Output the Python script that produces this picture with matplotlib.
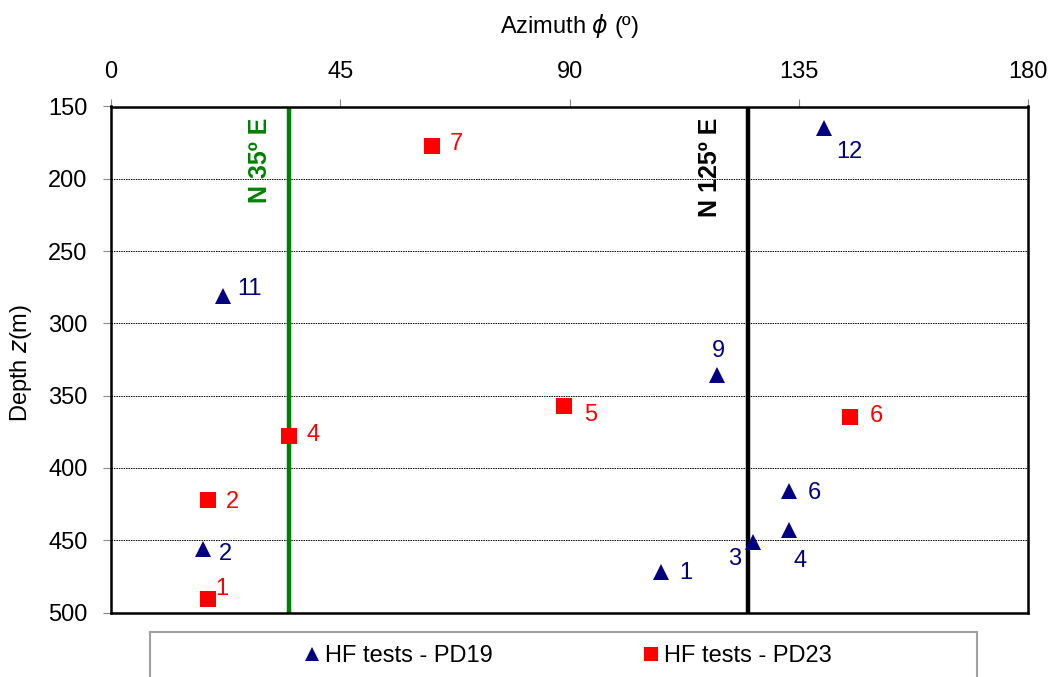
import matplotlib
matplotlib.use("Agg")
import matplotlib.pyplot as plt
from matplotlib.patches import Rectangle
from matplotlib.lines import Line2D

plt.rcParams['font.family'] = ['Liberation Sans', 'DejaVu Sans']
plt.rcParams['mathtext.fontset'] = 'dejavusans'

# HF tests in borehole PD19: azimuth (deg), depth (m), test number
pd19_azimuth = [108, 18, 126, 133, 133, 119, 22, 140]
pd19_depth = [472, 456, 451, 443, 416, 336, 281, 165]
pd19_ids = ['1', '2', '3', '4', '6', '9', '11', '12']
# label offsets in pixels (dx, dy), dy downwards
pd19_offsets = [(25, 1), (23, 5), (-18, 17), (12, 31), (26, 2), (1, -24), (26, -7), (25, 24)]

# HF tests in borehole PD23
pd23_azimuth = [19, 19, 35, 89, 145, 63]
pd23_depth = [491, 422, 378, 357, 365, 177]
pd23_ids = ['1', '2', '4', '5', '6', '7']
pd23_offsets = [(14, -10), (25, 2), (24, -1), (26, 9), (27, -1), (24, -2)]

# reference directions
dir_green = 35
dir_black = 125

x_ticks = [0, 45, 90, 135, 180]
y_ticks = [150, 200, 250, 300, 350, 400, 450, 500]

navy = '#000080'
red = '#ff0000'
green = '#008000'

fig = plt.figure(figsize=(10.56, 6.77), dpi=100)
ax = fig.add_axes([111 / 1056, 1 - 612.5 / 677, 917 / 1056, 506 / 677])

ax.set_xlim(0, 180)
ax.set_ylim(500, 150)
ax.set_xticks(x_ticks)
ax.set_yticks(y_ticks)
ax.xaxis.tick_top()
ax.xaxis.set_label_position('top')
ax.tick_params(axis='x', direction='out', length=6, width=0.8, color='#888888',
               labelsize=17, pad=11)
ax.tick_params(axis='y', direction='out', length=6, width=0.8, color='#888888',
               labelsize=17, pad=11)
for s in ax.spines.values():
    s.set_linewidth(1.8)
    s.set_color('black')

for d in y_ticks[1:-1]:
    ax.axhline(d, color='black', lw=0.7, ls=(0, (1.5, 1.0)), zorder=1)

ax.axvline(dir_green, color=green, lw=3.2, zorder=2)
ax.axvline(dir_black, color='black', lw=3.2, zorder=2)
ax.annotate('N 35º E', xy=(dir_green, 150), xytext=(-17, -11), textcoords='offset pixels',
            rotation=90, ha='right', va='top', fontsize=18, fontweight='bold', color=green)
ax.annotate('N 125º E', xy=(dir_black, 150), xytext=(-26, -11), textcoords='offset pixels',
            rotation=90, ha='right', va='top', fontsize=18, fontweight='bold', color='black')

ax.plot(pd19_azimuth, pd19_depth, ls='none', marker='^', ms=12, color=navy,
        markeredgewidth=0, zorder=4)
ax.plot(pd23_azimuth, pd23_depth, ls='none', marker='s', ms=12, color=red,
        markeredgewidth=0, zorder=4)

for x, y, t, (dx, dy) in zip(pd19_azimuth, pd19_depth, pd19_ids, pd19_offsets):
    ax.annotate(t, xy=(x, y), xytext=(dx, -dy), textcoords='offset pixels',
                ha='center', va='center', fontsize=17, color=navy, zorder=5)
for x, y, t, (dx, dy) in zip(pd23_azimuth, pd23_depth, pd23_ids, pd23_offsets):
    ax.annotate(t, xy=(x, y), xytext=(dx, -dy), textcoords='offset pixels',
                ha='center', va='center', fontsize=17, color=red, zorder=5)

ax.set_xlabel(r'Azimuth $\phi$ (º)', fontsize=17)
ax.xaxis.set_label_coords(0.5, (612.5 - 26) / 506)
ax.xaxis.label.set_va('center')
ax.set_ylabel(r'Depth $z$(m)', fontsize=17)
ax.yaxis.set_label_coords((21.5 - 111) / 917, (612.5 - 363) / 506)
ax.yaxis.label.set_va('center')

# legend frame
fig.patches.append(Rectangle((150 / 1056, -0.1), 827 / 1056, 0.1 + 45 / 677,
                             transform=fig.transFigure, fill=False,
                             edgecolor='#a0a0a0', lw=1.5))
handles = [Line2D([], [], ls='none', marker='^', ms=10, color=navy, markeredgewidth=0),
           Line2D([], [], ls='none', marker='s', ms=10, color=red, markeredgewidth=0)]
fig.legend(handles, ['HF tests - PD19', 'HF tests - PD23'], loc='center',
           bbox_to_anchor=(568 / 1056, 1 - 656 / 677), ncol=2, frameon=False,
           fontsize=17, handlelength=0.6, handletextpad=0.25, columnspacing=6.4,
           borderpad=0, borderaxespad=0)

fig.savefig('out.png', dpi=100)
